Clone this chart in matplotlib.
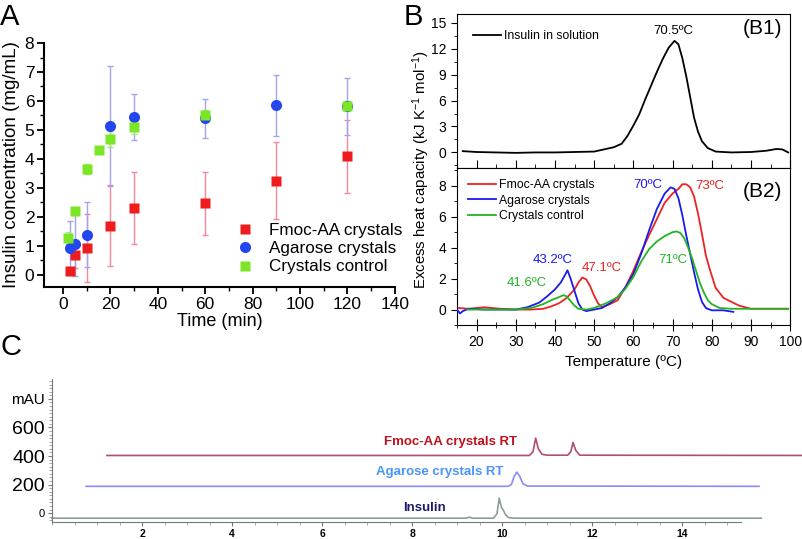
import matplotlib
matplotlib.use("Agg")
import matplotlib.pyplot as plt
from matplotlib.lines import Line2D
from matplotlib.ticker import MultipleLocator

plt.rcParams["font.family"] = ["Liberation Sans", "DejaVu Sans"]
plt.rcParams["mathtext.default"] = "regular"

# ---- panel A: release kinetics ----
time_fmoc = [3, 5, 10, 20, 30, 60, 90, 120]
conc_fmoc = [0.12, 0.68, 0.93, 1.70, 2.30, 2.47, 3.25, 4.10]
err_fmoc = [0.10, 0.46, 1.16, 1.39, 1.24, 1.09, 1.32, 1.26]

time_agar = [3, 5, 10, 20, 30, 60, 90, 120]
conc_agar = [0.93, 1.07, 1.38, 5.13, 5.44, 5.40, 5.85, 5.82]
err_agar = [0.92, 1.10, 1.12, 2.06, 0.80, 0.67, 1.05, 0.98]

time_ctrl = [2, 5, 10, 15, 20, 30, 60, 120]
conc_ctrl = [1.27, 2.20, 3.66, 4.31, 4.70, 5.10, 5.50, 5.83]
err_ctrl = [0.22, 0.05, 0.18, 0.08, 0.28, 0.23, 0.18, 0.18]

# ---- panel B1: DSC insulin in solution ----
b1_temp = [16.5, 20, 25, 30, 35, 40, 45, 50, 53, 55, 57, 58.5, 60, 61.5, 63, 64.5,
           66, 67.5, 69, 70.5, 71.5, 72.5, 73.5, 74.5, 75.5, 76.5, 77.5, 79, 81,
           85, 90, 94, 96.5, 98, 99.5]
b1_cp = [0.15, 0.05, 0.0, -0.05, 0.0, 0.0, 0.05, 0.1, 0.4, 0.6, 1.0, 1.9, 3.1, 4.4,
         6.1, 7.7, 9.3, 10.8, 12.1, 12.9, 12.5, 10.9, 8.8, 6.4, 4.0, 2.4, 1.3, 0.5,
         0.1, 0.0, 0.05, 0.2, 0.4, 0.35, 0.0]

# ---- panel B2: DSC crystals ----
fmoc_temp = [15.5, 18, 22, 26, 30, 34, 37, 39, 41, 43, 45, 46, 47, 48, 49, 50, 51,
             52, 54, 56, 58, 60, 62, 64, 66, 68, 70, 71.5, 72.5, 73.5, 74.5, 75.5,
             76.5, 77.5, 78.5, 79.5, 81, 83, 85, 87, 90, 95, 99.5]
fmoc_cp = [0.1, 0.05, 0.15, 0.05, 0.0, 0.0, 0.05, 0.2, 0.4, 0.75, 1.3, 1.75, 2.07,
           1.95, 1.5, 0.9, 0.4, 0.15, 0.35, 0.6, 1.45, 2.5, 3.7, 4.8, 5.85, 6.9, 7.5,
           7.8, 8.1, 8.1, 7.9, 7.3, 6.2, 4.9, 3.5, 2.6, 1.4, 0.75, 0.5, 0.25, 0.05,
           0.05, 0.05]

agar_temp = [15, 15.8, 16.5, 18, 22, 26, 30, 33, 36, 38, 40, 41.5, 42.5, 43.2, 44,
             45, 46, 47, 48, 50, 52, 54, 56, 58, 60, 62, 64, 66, 68, 69.5, 70.5,
             71.5, 72.5, 73.5, 74.5, 75.5, 76.5, 77.5, 78.5, 80, 83, 85.5]
agar_cp = [0.0, -0.25, -0.1, 0.05, 0.0, 0.0, 0.0, 0.15, 0.45, 0.85, 1.3, 1.75, 2.2,
           2.54, 2.0, 1.2, 0.4, 0.0, -0.1, 0.0, 0.1, 0.4, 0.8, 1.45, 2.3, 3.6, 5.1,
           6.5, 7.5, 7.9, 7.8, 7.2, 6.1, 4.8, 3.6, 2.4, 1.3, 0.5, 0.1, -0.05, -0.05,
           -0.15]

ctrl_temp = [17.5, 20, 25, 30, 34, 37, 39, 41, 42.2, 43, 44, 45, 46, 48, 50, 53, 56,
             58, 60, 62, 64, 66, 68, 70, 71, 72, 73, 74, 75, 76, 77, 78, 79, 80, 82,
             85, 90, 95, 99.5]
ctrl_cp = [0.0, 0.0, 0.0, 0.0, 0.1, 0.35, 0.6, 0.8, 0.93, 0.85, 0.55, 0.25, 0.05,
           0.0, 0.1, 0.4, 0.8, 1.35, 2.1, 3.1, 3.9, 4.4, 4.75, 5.0, 5.05, 4.95, 4.6,
           4.0, 3.3, 2.5, 1.7, 1.1, 0.6, 0.35, 0.1, 0.05, 0.05, 0.05, 0.05]

# ---- panel C: HPLC chromatograms (mAU vs min) ----
ins_rt = [0.0, 9.2, 9.27, 9.34, 9.8, 9.88, 9.93, 9.98, 10.02, 10.07, 10.13, 10.25, 15.75]
ins_mau = [-35, -35, -28, -35, -35, -5, 105, 40, 22, -10, -30, -35, -35]

agar_rt = [0.76, 10.12, 10.2, 10.26, 10.32, 10.38, 10.46, 10.56, 15.7]
agar_mau = [188, 188, 200, 255, 288, 262, 205, 190, 188]

fmoc_rt = [1.22, 10.6, 10.68, 10.74, 10.8, 10.88, 11.0, 11.45, 11.52, 11.57, 11.63,
           11.72, 16.9]
fmoc_mau = [404, 404, 430, 525, 450, 412, 406, 406, 430, 495, 440, 406, 404]

RED, BLUE, GREEN = "#ee1c1c", "#2346ee", "#7ae626"

fig = plt.figure(figsize=(8.03, 5.39), dpi=100)

# ================= A =================
ax = fig.add_axes([0.0548, 0.4675, 0.437, 0.4527])
ax.errorbar(time_fmoc, conc_fmoc, yerr=err_fmoc, fmt="none", ecolor="#f4889c",
            elinewidth=1, capsize=2, capthick=1, zorder=1)
ax.errorbar(time_agar, conc_agar, yerr=err_agar, fmt="none", ecolor="#a3a3ee",
            elinewidth=1, capsize=2, capthick=1, zorder=1)
ax.errorbar(time_ctrl, conc_ctrl, yerr=err_ctrl, fmt="none", ecolor="#a6e67a",
            elinewidth=1, capsize=2, capthick=1, zorder=1)
ax.plot(time_fmoc, conc_fmoc, "s", color=RED, ms=7.5, mec="none", zorder=3)
ax.plot(time_agar, conc_agar, "o", color=BLUE, ms=8, mec="none", zorder=4)
ax.plot(time_ctrl, conc_ctrl, "s", color=GREEN, ms=7.5, mec="none", zorder=5)
ax.set_xlim(-8, 140)
ax.set_ylim(-0.42, 8)
ax.set_xticks(range(0, 141, 20))
ax.set_yticks(range(0, 9))
ax.xaxis.set_minor_locator(MultipleLocator(10))
ax.yaxis.set_minor_locator(MultipleLocator(0.5))
for s in ("top", "right"):
    ax.spines[s].set_visible(False)
for s in ("left", "bottom"):
    ax.spines[s].set_linewidth(1.5)
ax.tick_params(which="major", length=5, width=1.3, labelsize=12.5, pad=2)
ax.tick_params(which="minor", length=3, width=1)
ax.set_xlabel("Time (min)", fontsize=13, labelpad=1)
ax.set_ylabel("Insulin concentration (mg/mL)", fontsize=13.5, labelpad=3)
handles = [Line2D([], [], ls="none", marker="s", color=RED, ms=7.5, mec="none"),
           Line2D([], [], ls="none", marker="o", color=BLUE, ms=8, mec="none"),
           Line2D([], [], ls="none", marker="s", color=GREEN, ms=7.5, mec="none")]
ax.legend(handles, ["Fmoc-AA crystals", "Agarose crystals", "Crystals control"],
          loc="upper left", bbox_to_anchor=(0.528, 0.289), frameon=False,
          fontsize=12.3, handlelength=1.0, handletextpad=0.9, labelspacing=0.18,
          borderaxespad=0)

# ================= B1 =================
b1 = fig.add_axes([0.569, 0.6883, 0.415, 0.2857])
b1.plot(b1_temp, b1_cp, color="black", lw=1.3, label="Insulin in solution")
b1.set_xlim(15, 100)
b1.set_ylim(-1.8, 16)
b1.set_yticks(range(0, 16, 3))
b1.yaxis.set_minor_locator(MultipleLocator(1.5))
b1.set_xticks(range(20, 101, 10))
b1.xaxis.set_minor_locator(MultipleLocator(5))
b1.tick_params(axis="x", which="both", direction="in", labelbottom=False)
b1.tick_params(axis="x", which="major", length=6)
b1.tick_params(axis="x", which="minor", length=3)
b1.tick_params(axis="y", which="major", length=4, labelsize=10)
b1.tick_params(axis="y", which="minor", length=2)
b1.legend(loc="upper left", frameon=False, fontsize=8.8, handlelength=2.3,
          handletextpad=0.25, borderaxespad=0.9)
b1.text(70.3, 14.0, "70.5ºC", ha="center", va="center", fontsize=9.5)
b1.text(93, 14.3, "(B1)", ha="center", va="center", fontsize=15)

# ================= B2 =================
b2 = fig.add_axes([0.569, 0.397, 0.415, 0.2913], sharex=b1)
b2.plot(fmoc_temp, fmoc_cp, color="#ee2222", lw=1.3, label="Fmoc-AA crystals", zorder=3)
b2.plot(agar_temp, agar_cp, color="#1a1aee", lw=1.3, label="Agarose crystals", zorder=4)
b2.plot(ctrl_temp, ctrl_cp, color="#22b422", lw=1.3, label="Crystals control", zorder=5)
b2.set_ylim(-1.0, 9.15)
b2.set_yticks(range(0, 9, 2))
b2.yaxis.set_minor_locator(MultipleLocator(1))
b2.tick_params(axis="x", which="both", direction="inout", top=False)
b2.tick_params(axis="x", which="major", length=8, labelsize=10)
b2.tick_params(axis="x", which="minor", length=5)
b2.tick_params(axis="y", which="major", length=4, labelsize=10)
b2.tick_params(axis="y", which="minor", length=2)
b2.set_xlabel("Temperature (ºC)", fontsize=11)
b2.legend(loc="upper left", frameon=False, fontsize=8.8, handlelength=2.3,
          handletextpad=0.25, labelspacing=0.3, borderaxespad=0.5)
b2.text(63.8, 8.05, "70ºC", color="#1a1aee", ha="center", va="center", fontsize=9.5)
b2.text(79.6, 8.0, "73ºC", color="#ee2222", ha="center", va="center", fontsize=9.5)
b2.text(39.5, 3.2, "43.2ºC", color="#1a1aee", ha="center", va="center", fontsize=9.5)
b2.text(52.0, 2.7, "47.1ºC", color="#ee2222", ha="center", va="center", fontsize=9.5)
b2.text(32.8, 1.72, "41.6ºC", color="#22b422", ha="center", va="center", fontsize=9.5)
b2.text(70.2, 3.2, "71ºC", color="#22b422", ha="center", va="center", fontsize=9.5)
b2.text(93, 7.6, "(B2)", ha="center", va="center", fontsize=15)

fig.text(0.524, 0.685, "Excess heat capacity (kJ K$^{-1}$ mol$^{-1}$)", rotation=90,
         ha="center", va="center", fontsize=10.8)

# ================= C =================
narrow = ["Liberation Sans Narrow", "Liberation Sans", "DejaVu Sans"]
cx = fig.add_axes([0.0648, 0.032, 0.858, 0.265])
cx.plot(ins_rt, ins_mau, color="#8a9e96", lw=1.2, clip_on=False)
cx.plot(agar_rt, agar_mau, color="#8c8cf2", lw=1.2, clip_on=False)
cx.plot(fmoc_rt, fmoc_mau, color="#b04e6c", lw=1.2, clip_on=False)
cx.set_xlim(0, 15.3)
cx.set_ylim(-60, 940)
cx.set_xticks(range(2, 15, 2))
cx.xaxis.set_minor_locator(MultipleLocator(0.5))
cx.set_yticks([0, 200, 400, 600, 800])
cx.set_yticklabels(["0", "200", "400", "600", "mAU"])
cx.yaxis.set_minor_locator(MultipleLocator(25))
for s in ("top", "right"):
    cx.spines[s].set_visible(False)
cx.spines["left"].set_color("#777777")
cx.spines["bottom"].set_color("#777777")
cx.tick_params(which="major", length=3, color="#777777", pad=2)
cx.tick_params(which="minor", length=2, color="#999999")
cx.tick_params(axis="x", labelsize=7.5)
for lab in cx.get_xticklabels():
    lab.set_fontweight("bold")
for lab in cx.get_yticklabels():
    t = lab.get_text()
    lab.set_fontfamily(narrow)
    lab.set_fontsize(8 if t == "0" else (11 if t == "mAU" else 14))
cx.text(8.85, 496, "Fmoc-AA crystals RT", color="#c0101e", fontweight="bold",
        ha="center", va="center", fontsize=9.5, family=narrow)
cx.text(8.6, 291, "Agarose crystals RT", color="#4a94ff", fontweight="bold",
        ha="center", va="center", fontsize=9.5, family=narrow)
cx.text(8.27, 38, "Insulin", color="#1c1c6e", fontweight="bold",
        ha="center", va="center", fontsize=9.5, family=narrow)

fig.text(0.0, 0.995, "A", fontsize=21, va="top", ha="left")
fig.text(0.503, 0.995, "B", fontsize=21, va="top", ha="left")
fig.text(0.0, 0.382, "C", fontsize=21, va="top", ha="left")

fig.savefig("out.png", dpi=100)
